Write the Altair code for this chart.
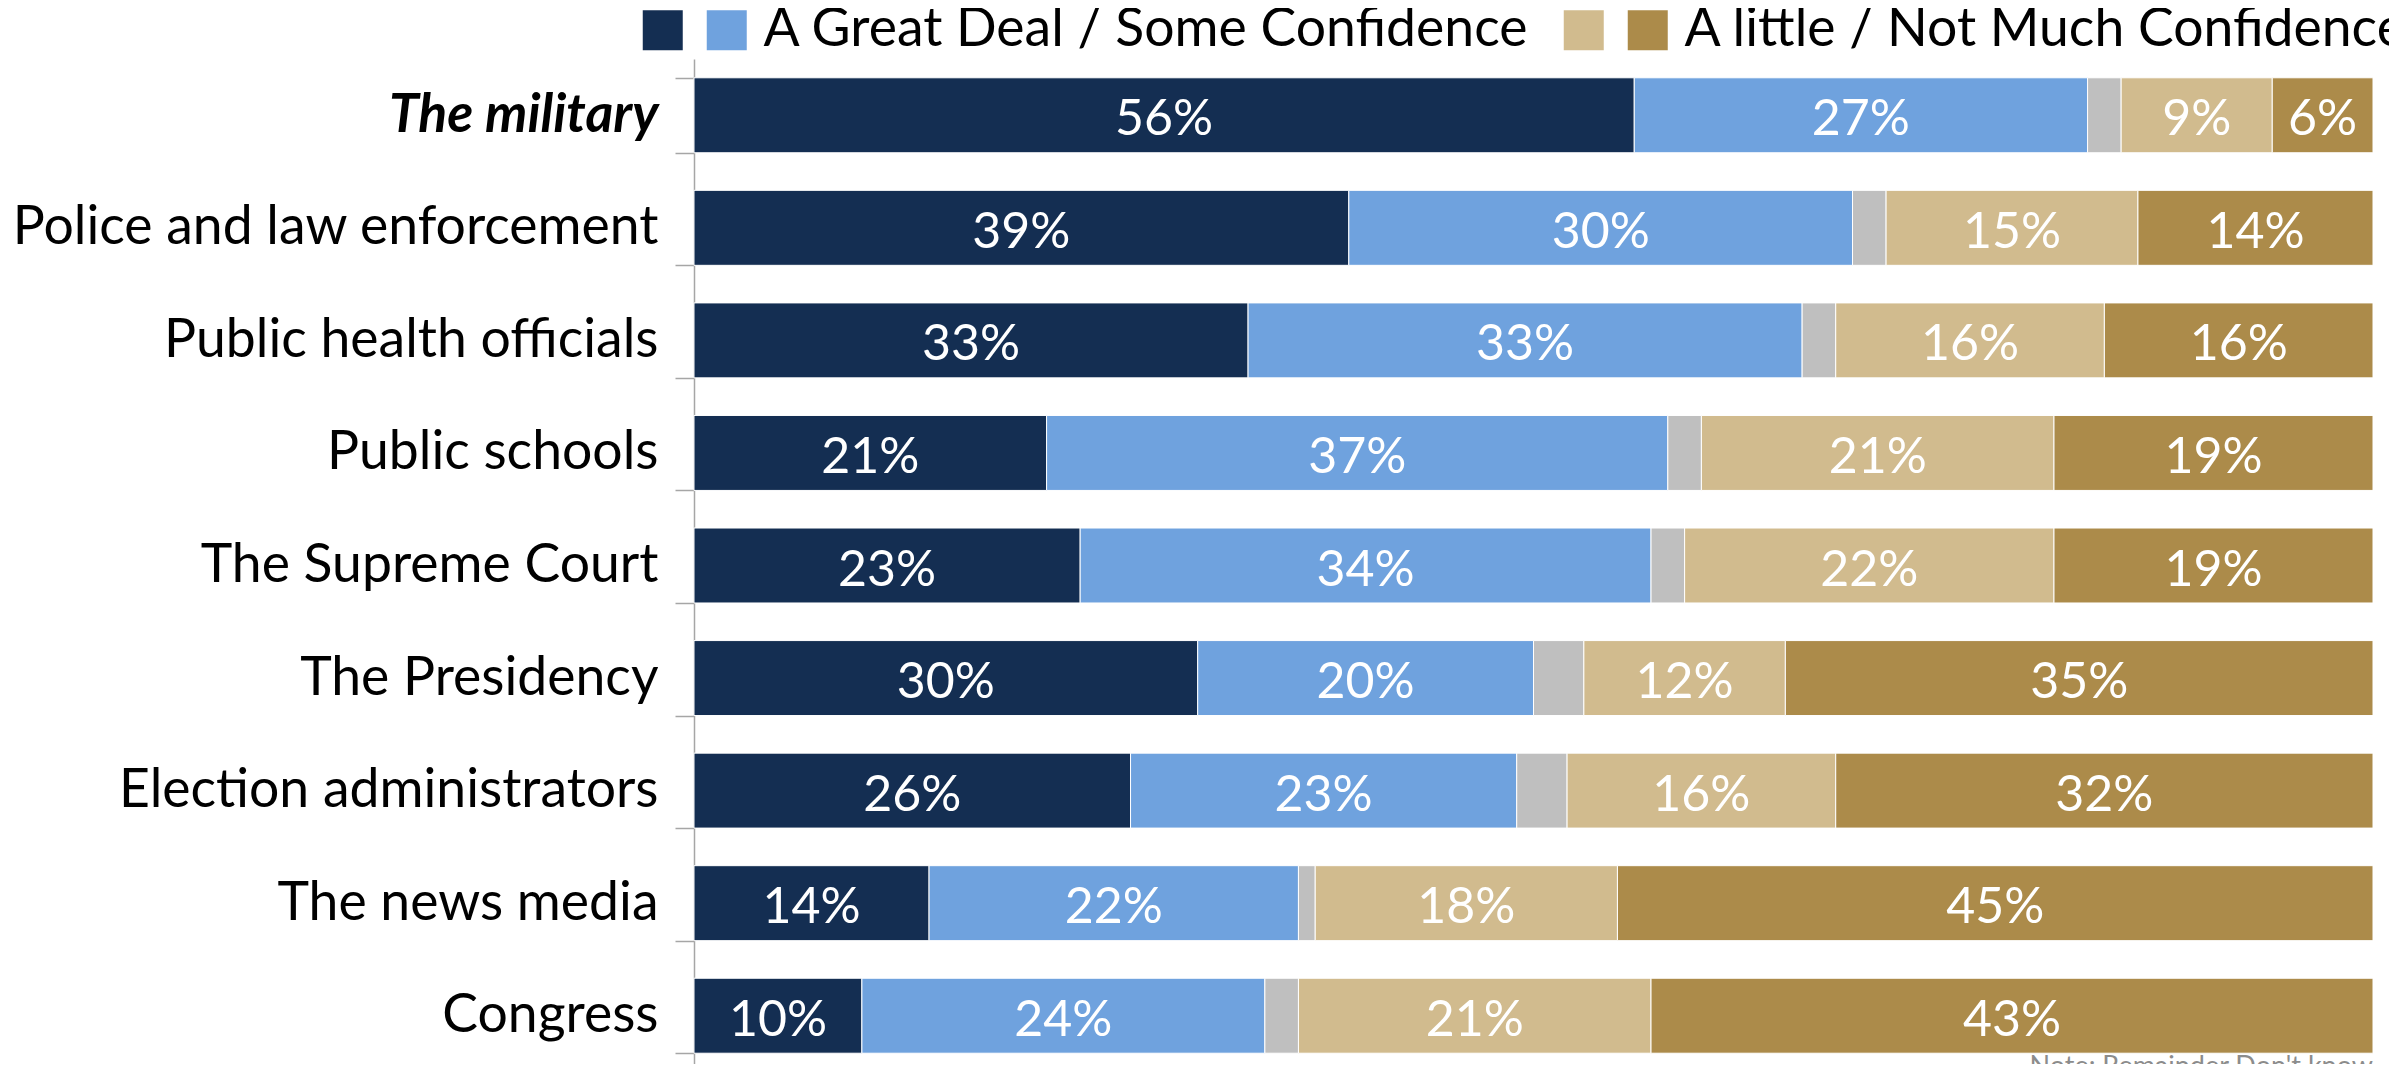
import altair as alt
import pandas as pd

categories = ["The military", "Police and law enforcement", "Public health officials",
              "Public schools", "The Supreme Court", "The Presidency",
              "Election administrators", "The news media", "Congress"]
great_deal = [56, 39, 33, 21, 23, 30, 26, 14, 10]
some = [27, 30, 33, 37, 34, 20, 23, 22, 24]
dont_know = [2, 2, 2, 2, 2, 3, 3, 1, 2]
little = [9, 15, 16, 21, 22, 12, 16, 18, 21]
not_much = [6, 14, 16, 19, 19, 35, 32, 45, 43]

series_keys = ["Great Deal", "Some", "Don't know", "Little", "Not Much"]
series_colors = ["#142E52", "#6FA2DE", "#BFBFBF", "#D1BB8E", "#AC8B4A"]
legend_text_1 = "A Great Deal / Some Confidence"
legend_text_2 = "A little / Not Much Confidence"
note_text = "Note: Remainder Don't know"

rows = []
for i, cat in enumerate(categories):
    for j, (key, vals) in enumerate(zip(series_keys, [great_deal, some, dont_know, little, not_much])):
        rows.append({"category": cat, "series": key, "order": j, "value": vals[i],
                     "label": "" if key == "Don't know" else f"{vals[i]}%"})
df = pd.DataFrame(rows)

W = 1679
H = 1005
FONT = "Lato"
LABEL_SIZE = 53.5

base = alt.Chart(df).transform_stack(
    stack="value", groupby=["category"], as_=["x0", "x1"], sort=[alt.SortField("order")]
).transform_calculate(mid="(datum.x0 + datum.x1) / 2")

yenc = alt.Y(
    "category:N", sort=categories,
    scale=alt.Scale(range=[0, 1013], paddingInner=0.334, paddingOuter=0.167),
    axis=alt.Axis(
        title=None, labelFont=FONT, labelFontSize=LABEL_SIZE, labelColor="black",
        labelPadding=17, tickSize=19, tickBand="extent", domainColor="#A6A6A6",
        tickColor="#A6A6A6", domainWidth=1.5, tickWidth=1.5, grid=False, labelLimit=1000,
        labelFontWeight={"condition": {"test": "datum.value == 'The military'", "value": "bold"}, "value": "normal"},
        labelFontStyle={"condition": {"test": "datum.value == 'The military'", "value": "italic"}, "value": "normal"},
    ),
)

nb = "\u00a0"
zw = "\u200b"
label_expr = (
    f"datum.label == 'Some' ? '{legend_text_1}{nb}{nb}{zw}' : "
    f"datum.label == 'Not Much' ? '{legend_text_2}' : ''"
)

bars = base.mark_bar(stroke="white", strokeWidth=1).encode(
    y=yenc,
    x=alt.X("x0:Q", scale=alt.Scale(domain=[0, 100], nice=False, zero=True), axis=None),
    x2="x1:Q",
    color=alt.Color(
        "series:N",
        scale=alt.Scale(domain=series_keys, range=series_colors),
        legend=alt.Legend(
            orient="none", legendX=-58, legendY=-56, direction="horizontal", title=None,
            values=["Great Deal", "Some", "Little", "Not Much"], labelExpr=label_expr,
            symbolType="square", symbolSize=1600, symbolStrokeWidth=0, symbolOpacity=1,
            labelFont=FONT, labelFontSize=LABEL_SIZE, labelColor="black", labelOffset=10,
            columnPadding=0, labelLimit=3000, padding=0,
        ),
    ),
)

labels = base.transform_filter("datum.label != ''").mark_text(
    color="white", font=FONT, fontSize=50, fontWeight=400, baseline="middle", align="center", dy=5
).encode(
    y=alt.Y("category:N", sort=categories),
    x=alt.X("mid:Q"),
    text="label:N",
)

note = alt.Chart(pd.DataFrame({"t": [note_text]})).mark_text(
    align="right", baseline="top", font=FONT, fontSize=27, color="#8C8C8C"
).encode(x=alt.value(W), y=alt.value(995), text="t:N")

chart = alt.layer(bars, labels, note).properties(
    width=W, height=H,
    autosize=alt.AutoSizeParams(type="none"),
    padding={"left": 686, "top": 51, "right": 16, "bottom": 0},
    background="white",
).configure_view(stroke=None)

chart.save("out.html", embed_options={"renderer": "svg", "actions": False})
